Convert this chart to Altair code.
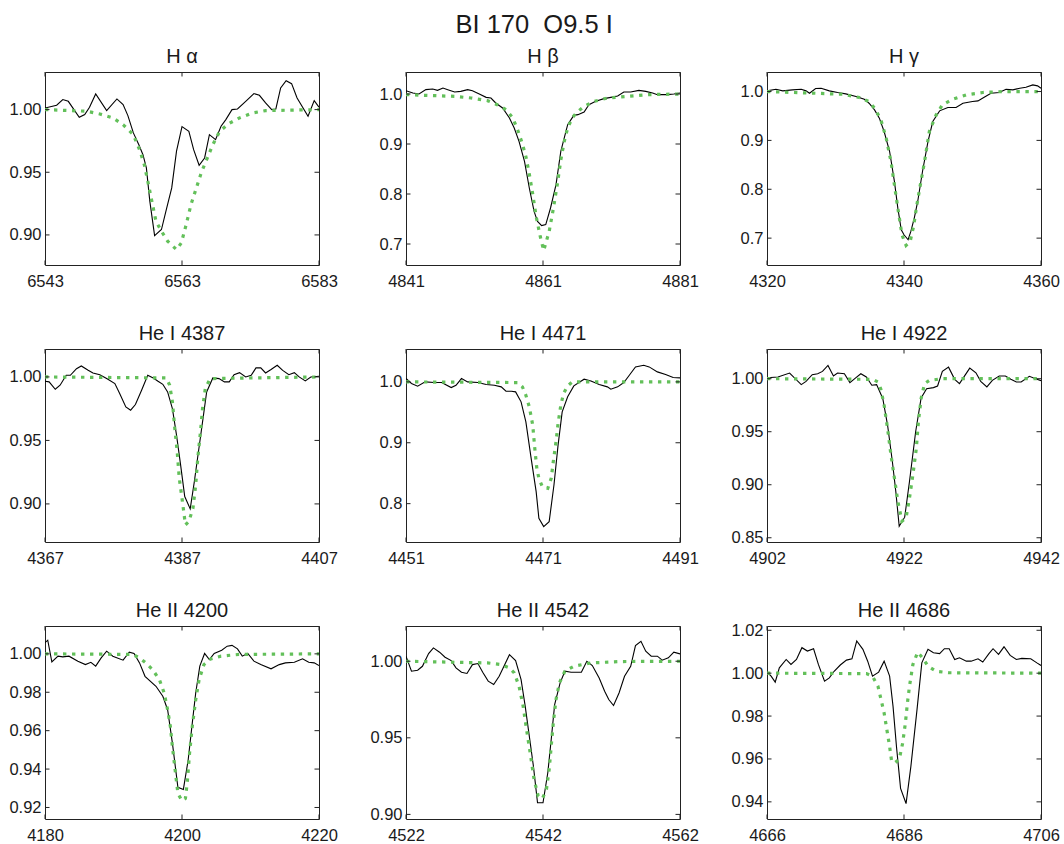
import altair as alt
import pandas as pd

FONT = "Liberation Sans"
TEXT = "#1a1a1a"
GREEN = "#63c05a"

# ---------------- data ----------------
ha_obs_x = [6543.0, 6544.7, 6545.6, 6546.4, 6548.0, 6548.8, 6549.5, 6550.4, 6552.0, 6553.5, 6554.4, 6555.1, 6555.9, 6556.7, 6557.3, 6557.8, 6558.3, 6559.0, 6560.0, 6560.7, 6561.5, 6562.2, 6563.0, 6564.0, 6564.7, 6565.5, 6566.3, 6567.0, 6567.9, 6568.7, 6569.4, 6570.3, 6571.1, 6572.3, 6573.5, 6574.3, 6575.2, 6576.1, 6576.7, 6577.4, 6578.2, 6579.0, 6579.8, 6581.4, 6582.3, 6583.0]
ha_obs_y = [1.0013, 1.0035, 1.008, 1.0066, 0.9939, 0.996, 1.0019, 1.0125, 0.9992, 1.0085, 1.004, 0.9952, 0.9814, 0.972, 0.964, 0.9535, 0.927, 0.8995, 0.9043, 0.920, 0.9375, 0.9668, 0.9864, 0.9827, 0.968, 0.9556, 0.9614, 0.980, 0.976, 0.9867, 0.992, 1.000, 1.0005, 1.0066, 1.0128, 1.0114, 1.0053, 1.000, 1.0005, 1.0173, 1.0231, 1.0207, 1.0093, 0.9947, 1.0072, 1.0019]
ha_mod_x = [6543.0, 6549.1, 6551.0, 6552.9, 6554.4, 6555.9, 6556.8, 6557.5, 6558.0, 6558.5, 6559.2, 6560.0, 6560.9, 6562.2, 6562.9, 6563.6, 6564.3, 6565.1, 6565.8, 6566.5, 6567.5, 6568.5, 6569.9, 6571.4, 6573.3, 6575.2, 6583.0]
ha_mod_y = [1.000, 0.9987, 0.9965, 0.9934, 0.988, 0.980, 0.968, 0.956, 0.943, 0.9295, 0.911, 0.903, 0.895, 0.8883, 0.8936, 0.908, 0.924, 0.9375, 0.9495, 0.9588, 0.972, 0.9827, 0.989, 0.9934, 0.9973, 0.9992, 1.000]

hb_obs_x = [4841.0, 4842.0, 4842.9, 4843.9, 4844.9, 4845.6, 4846.4, 4847.1, 4848.1, 4849.0, 4850.0, 4850.7, 4851.7, 4852.7, 4853.4, 4854.1, 4855.1, 4856.1, 4856.8, 4857.5, 4858.3, 4859.0, 4859.7, 4860.2, 4860.8, 4861.4, 4862.1, 4862.9, 4863.6, 4864.6, 4865.5, 4866.1, 4867.0, 4867.7, 4868.7, 4869.9, 4870.9, 4871.9, 4872.8, 4873.8, 4875.0, 4876.0, 4877.0, 4877.7, 4879.2, 4880.1, 4881.0]
hb_obs_y = [1.0067, 1.002, 1.000, 1.0087, 1.010, 1.0073, 1.012, 1.0087, 1.004, 1.0053, 1.0087, 1.0067, 1.000, 0.9933, 0.992, 0.982, 0.972, 0.952, 0.932, 0.9053, 0.8653, 0.812, 0.7653, 0.7453, 0.7367, 0.7387, 0.772, 0.8187, 0.8853, 0.9387, 0.9573, 0.9587, 0.964, 0.9787, 0.9853, 0.9907, 0.9933, 0.996, 1.004, 1.004, 1.0073, 1.0053, 1.002, 0.9987, 0.9987, 1.000, 1.002]
hb_mod_x = [4841.0, 4848.1, 4850.5, 4852.9, 4854.3, 4855.6, 4856.6, 4857.3, 4858.0, 4858.5, 4859.0, 4859.5, 4860.0, 4860.6, 4861.1, 4861.9, 4862.5, 4863.1, 4863.6, 4864.1, 4864.6, 4865.3, 4866.0, 4867.0, 4868.5, 4870.4, 4873.3, 4876.2, 4881.0]
hb_mod_y = [0.9987, 0.9953, 0.992, 0.9867, 0.9787, 0.9687, 0.952, 0.928, 0.900, 0.875, 0.840, 0.800, 0.755, 0.715, 0.687, 0.725, 0.770, 0.820, 0.868, 0.905, 0.932, 0.953, 0.964, 0.9753, 0.9853, 0.992, 0.9953, 0.9987, 1.000]

hg_obs_x = [4320.0, 4321.3, 4322.3, 4323.7, 4325.0, 4325.7, 4326.2, 4327.1, 4327.9, 4329.1, 4330.3, 4331.5, 4333.0, 4334.2, 4334.9, 4335.7, 4336.4, 4337.1, 4337.9, 4338.6, 4339.1, 4339.6, 4340.0, 4340.6, 4341.0, 4341.5, 4342.0, 4342.7, 4343.5, 4344.2, 4345.2, 4346.4, 4347.6, 4348.6, 4350.0, 4350.8, 4351.7, 4352.7, 4353.9, 4354.9, 4355.9, 4356.9, 4357.8, 4358.8, 4359.5, 4360.0]
hg_obs_y = [1.0014, 1.0048, 1.0014, 1.0034, 1.0048, 1.0014, 0.9966, 1.0061, 1.0068, 1.0014, 0.998, 0.9952, 0.9898, 0.9843, 0.9761, 0.9625, 0.9455, 0.9182, 0.8773, 0.816, 0.7614, 0.7171, 0.7069, 0.6967, 0.7137, 0.741, 0.775, 0.8364, 0.8977, 0.9386, 0.9605, 0.9673, 0.9673, 0.9761, 0.9795, 0.9809, 0.9884, 0.9966, 0.998, 1.0048, 1.0034, 1.0068, 1.0089, 1.0136, 1.0116, 1.0068]
hg_mod_x = [4320.0, 4331.0, 4333.5, 4334.9, 4335.9, 4336.7, 4337.4, 4338.1, 4338.6, 4339.1, 4339.7, 4340.3, 4340.9, 4341.4, 4341.8, 4342.3, 4343.0, 4343.7, 4344.7, 4345.6, 4347.1, 4349.1, 4351.5, 4354.4, 4360.0]
hg_mod_y = [1.000, 0.9945, 0.9877, 0.9795, 0.9625, 0.9386, 0.9045, 0.8568, 0.8091, 0.7614, 0.7069, 0.685, 0.6933, 0.724, 0.7614, 0.8023, 0.8568, 0.9182, 0.9523, 0.9727, 0.9843, 0.9932, 0.998, 1.000, 1.000]

he4387_obs_x = [4367.0, 4367.6, 4368.5, 4369.2, 4370.1, 4370.7, 4371.6, 4372.3, 4373.3, 4374.0, 4375.0, 4376.0, 4377.2, 4377.9, 4378.8, 4379.5, 4380.2, 4381.1, 4382.0, 4382.8, 4383.5, 4384.2, 4384.9, 4385.6, 4386.2, 4386.8, 4387.4, 4388.2, 4388.8, 4389.5, 4390.1, 4390.6, 4391.5, 4392.4, 4393.2, 4393.9, 4394.6, 4395.4, 4396.3, 4397.1, 4397.8, 4398.5, 4399.2, 4400.0, 4400.9, 4401.7, 4402.6, 4403.4, 4404.1, 4405.0, 4405.8, 4407.0]
he4387_obs_y = [0.9966, 0.9961, 0.9903, 0.9935, 1.0013, 1.0013, 1.0065, 1.0086, 1.0052, 1.0031, 1.0018, 0.9987, 0.9948, 0.9869, 0.9764, 0.9738, 0.9783, 0.9895, 1.0013, 0.9992, 0.9966, 0.9942, 0.9882, 0.9751, 0.9542, 0.9306, 0.9058, 0.8961, 0.9175, 0.945, 0.9686, 0.9882, 0.9992, 0.9987, 0.9961, 0.9961, 1.0018, 1.0034, 1.000, 1.0013, 1.0071, 1.0071, 1.0031, 1.0058, 1.0092, 1.0052, 1.0018, 1.0034, 1.000, 0.9969, 1.000, 1.0005]
he4387_mod_x = [4367.0, 4384.7, 4385.2, 4385.6, 4385.9, 4386.3, 4386.6, 4387.0, 4387.5, 4388.0, 4388.6, 4389.0, 4389.3, 4389.7, 4390.0, 4390.4, 4391.1, 4407.0]
he4387_mod_y = [1.000, 0.9992, 0.9935, 0.9804, 0.962, 0.9411, 0.9202, 0.9045, 0.8835, 0.8861, 0.8966, 0.9149, 0.9359, 0.9568, 0.9751, 0.9908, 0.9987, 1.000]

he4471_obs_x = [4451.0, 4451.8, 4452.7, 4453.8, 4455.1, 4456.2, 4457.6, 4458.3, 4459.1, 4460.0, 4461.5, 4462.7, 4463.9, 4464.9, 4465.6, 4466.4, 4467.0, 4467.8, 4468.5, 4469.2, 4470.0, 4470.4, 4471.1, 4471.9, 4472.6, 4473.2, 4473.8, 4474.6, 4475.5, 4477.0, 4478.0, 4479.2, 4480.4, 4480.9, 4481.9, 4482.8, 4483.6, 4484.5, 4485.7, 4486.5, 4487.7, 4488.9, 4490.0, 4491.0]
he4471_obs_y = [1.0055, 0.9973, 0.9929, 1.000, 0.9989, 0.9989, 0.9907, 0.9945, 1.0055, 1.000, 0.9989, 0.9956, 0.9945, 0.9918, 0.9847, 0.9847, 0.9836, 0.9672, 0.9344, 0.8798, 0.8197, 0.776, 0.7623, 0.7705, 0.8306, 0.8962, 0.9508, 0.9754, 0.9934, 1.0044, 1.0016, 0.9956, 0.9918, 0.988, 0.9918, 0.9989, 1.0109, 1.0246, 1.0273, 1.0246, 1.0164, 1.012, 1.0071, 1.0066]
he4471_mod_x = [4451.0, 4467.3, 4468.0, 4468.5, 4469.0, 4469.5, 4469.8, 4470.1, 4470.4, 4470.9, 4471.7, 4472.2, 4472.5, 4472.9, 4473.2, 4473.6, 4474.0, 4474.6, 4475.3, 4491.0]
he4471_mod_y = [1.000, 0.9989, 0.9918, 0.9781, 0.959, 0.929, 0.8907, 0.8579, 0.8415, 0.8279, 0.8251, 0.8415, 0.8689, 0.9016, 0.9317, 0.9617, 0.9809, 0.9934, 1.000, 1.000]

he4922_obs_x = [4902.0, 4903.6, 4905.3, 4907.0, 4907.7, 4908.6, 4909.4, 4910.1, 4910.9, 4911.7, 4912.3, 4913.3, 4914.1, 4914.9, 4915.7, 4916.5, 4917.3, 4918.0, 4918.9, 4919.6, 4920.3, 4920.8, 4921.3, 4922.1, 4922.8, 4923.7, 4924.5, 4925.3, 4926.3, 4926.9, 4927.6, 4928.5, 4929.4, 4930.1, 4930.8, 4931.6, 4932.5, 4933.2, 4934.1, 4934.9, 4935.9, 4936.8, 4937.6, 4938.4, 4939.1, 4940.3, 4941.2, 4942.0]
he4922_obs_y = [1.0009, 1.0016, 1.0053, 0.9944, 0.9975, 1.0038, 1.0047, 1.0069, 1.0125, 1.0025, 1.0053, 1.0047, 0.9963, 1.0006, 1.0047, 1.0016, 0.9938, 0.9944, 0.9813, 0.9563, 0.9219, 0.8938, 0.8609, 0.8694, 0.9031, 0.95, 0.9819, 0.9906, 0.9916, 0.9931, 1.0069, 1.0109, 0.9994, 0.9953, 1.0022, 1.01, 1.0056, 0.9975, 0.9922, 0.9984, 1.0025, 1.0025, 0.9994, 0.9969, 0.9969, 1.0022, 1.000, 0.9981]
he4922_mod_x = [4902.0, 4917.4, 4918.2, 4918.6, 4919.1, 4919.6, 4920.1, 4920.6, 4921.1, 4921.7, 4922.3, 4922.8, 4923.3, 4923.8, 4924.1, 4924.5, 4925.0, 4925.7, 4927.6, 4942.0]
he4922_mod_y = [1.000, 0.9994, 0.9969, 0.9906, 0.975, 0.9531, 0.9281, 0.9063, 0.8844, 0.8656, 0.8688, 0.8875, 0.9094, 0.9344, 0.9594, 0.9813, 0.9953, 0.9984, 1.000, 1.000]

he4200_obs_x = [4180.0, 4180.4, 4181.0, 4181.9, 4182.6, 4183.5, 4184.8, 4185.9, 4186.7, 4187.4, 4188.2, 4189.0, 4189.9, 4191.4, 4192.3, 4193.0, 4193.8, 4194.6, 4196.2, 4197.2, 4197.9, 4198.6, 4199.4, 4200.2, 4200.9, 4201.5, 4202.0, 4202.6, 4203.3, 4204.0, 4204.7, 4205.8, 4206.6, 4207.3, 4208.1, 4208.8, 4209.6, 4210.5, 4211.5, 4213.0, 4214.2, 4215.1, 4216.4, 4217.6, 4218.5, 4219.3, 4220.0]
he4200_obs_y = [1.0058, 1.0071, 0.9958, 0.9988, 0.9984, 0.9988, 0.9962, 0.9944, 0.9956, 0.9936, 0.9979, 1.0014, 0.9988, 0.9967, 1.0009, 1.0002, 0.9953, 0.9883, 0.9831, 0.9779, 0.9709, 0.9535, 0.9305, 0.9294, 0.9447, 0.9639, 0.9796, 0.9936, 1.0002, 0.997, 1.0002, 1.0019, 1.004, 1.0044, 1.0026, 0.9988, 1.0002, 0.9962, 0.9944, 0.9922, 0.9944, 0.9953, 0.9956, 0.9974, 0.9956, 0.9953, 0.9939]
he4200_mod_x = [4180.0, 4192.8, 4193.8, 4194.7, 4195.7, 4196.7, 4197.4, 4197.9, 4198.3, 4198.6, 4199.0, 4199.4, 4200.0, 4200.5, 4200.8, 4201.1, 4201.5, 4202.0, 4202.5, 4203.2, 4204.2, 4205.7, 4208.3, 4220.0]
he4200_mod_y = [1.000, 0.9997, 0.9979, 0.9953, 0.9918, 0.9866, 0.9796, 0.9709, 0.9622, 0.9517, 0.9395, 0.9273, 0.9235, 0.9247, 0.9343, 0.9482, 0.9622, 0.9761, 0.9866, 0.9944, 0.9974, 0.9988, 0.9997, 1.000]

he4542_obs_x = [4522.0, 4522.8, 4523.7, 4524.4, 4525.3, 4526.0, 4526.9, 4527.7, 4528.6, 4529.3, 4530.1, 4530.9, 4531.7, 4532.5, 4533.2, 4534.0, 4534.8, 4535.6, 4536.3, 4537.1, 4538.0, 4538.8, 4539.4, 4540.0, 4540.6, 4541.2, 4542.0, 4542.7, 4543.2, 4543.7, 4544.5, 4545.2, 4546.1, 4547.6, 4548.4, 4549.2, 4550.2, 4551.0, 4551.6, 4552.3, 4553.1, 4553.9, 4554.8, 4555.5, 4556.3, 4557.0, 4557.8, 4558.7, 4559.4, 4560.3, 4561.1, 4562.0]
he4542_obs_y = [1.0033, 0.9935, 0.9941, 0.9967, 1.005, 1.0087, 1.0059, 1.0026, 1.0004, 0.9957, 0.9928, 0.992, 0.9978, 0.9985, 0.9928, 0.987, 0.9848, 0.9902, 0.9967, 1.0043, 1.0004, 0.988, 0.9707, 0.9511, 0.9315, 0.9076, 0.9076, 0.9272, 0.9489, 0.9717, 0.9859, 0.9935, 0.9928, 0.9928, 1.000, 0.9972, 0.9891, 0.9804, 0.975, 0.9711, 0.9793, 0.9902, 0.9967, 1.0102, 1.013, 1.0065, 1.0033, 1.0033, 1.0007, 1.0022, 1.0059, 1.0048]
he4542_mod_x = [4522.0, 4533.9, 4535.9, 4537.1, 4537.8, 4538.5, 4539.1, 4539.6, 4540.2, 4540.7, 4541.3, 4541.9, 4542.5, 4542.9, 4543.2, 4543.5, 4543.9, 4544.4, 4545.2, 4546.5, 4549.0, 4553.4, 4562.0]
he4542_mod_y = [1.000, 0.9989, 0.9978, 0.9957, 0.9924, 0.9837, 0.9707, 0.9554, 0.938, 0.9228, 0.912, 0.9102, 0.9163, 0.9293, 0.9446, 0.9598, 0.975, 0.9859, 0.9935, 0.9967, 0.9989, 0.9998, 1.000]

he4686_obs_x = [4666.0, 4666.6, 4667.2, 4667.8, 4668.8, 4669.5, 4670.3, 4671.1, 4671.9, 4672.8, 4673.5, 4674.4, 4675.1, 4675.8, 4676.7, 4677.6, 4678.4, 4679.1, 4680.0, 4680.7, 4681.4, 4682.3, 4683.1, 4683.9, 4684.4, 4684.9, 4685.5, 4686.3, 4687.0, 4687.9, 4688.6, 4689.5, 4690.3, 4691.2, 4691.9, 4692.6, 4693.4, 4694.1, 4695.1, 4695.8, 4696.8, 4697.5, 4698.4, 4699.0, 4699.8, 4700.6, 4701.5, 4702.4, 4703.2, 4704.5, 4705.4, 4706.0]
he4686_obs_y = [1.0005, 0.9986, 0.9958, 1.0025, 1.0064, 1.0041, 1.0064, 1.0119, 1.0103, 1.0114, 1.0041, 0.9963, 0.9978, 1.0009, 1.0038, 1.0061, 1.0067, 1.015, 1.0111, 1.0056, 0.9986, 1.0005, 1.0056, 0.9986, 0.9845, 0.9658, 0.9463, 0.9392, 0.9564, 0.983, 1.0048, 1.0111, 1.0095, 1.0091, 1.0114, 1.0114, 1.0064, 1.0072, 1.0056, 1.0056, 1.0067, 1.0052, 1.0091, 1.0114, 1.0088, 1.0123, 1.0083, 1.0064, 1.0069, 1.0067, 1.0048, 1.0036]
he4686_mod_x = [4666.0, 4680.5, 4681.4, 4682.2, 4682.6, 4683.1, 4683.5, 4683.9, 4684.2, 4684.7, 4685.3, 4685.8, 4686.2, 4686.5, 4686.8, 4687.3, 4688.0, 4688.7, 4689.5, 4690.7, 4692.6, 4706.0]
he4686_mod_y = [1.000, 0.9998, 0.9986, 0.9939, 0.9884, 0.9814, 0.9736, 0.9658, 0.9588, 0.9583, 0.9598, 0.9673, 0.9767, 0.9861, 0.9939, 1.0041, 1.0098, 1.0072, 1.0033, 1.0009, 1.0002, 1.000]

panel_titles = ["H α", "H β", "H γ", "He I 4387", "He I 4471", "He I 4922", "He II 4200", "He II 4542", "He II 4686"]
x_starts = [6543, 4841, 4320, 4367, 4451, 4902, 4180, 4522, 4666]
y_domains = [[0.876, 1.030], [0.658, 1.044], [0.645, 1.040],
             [0.870, 1.022], [0.737, 1.054], [0.846, 1.028],
             [0.914, 1.0145], [0.897, 1.023], [0.932, 1.022]]
y_ticks = [[0.90, 0.95, 1.00], [0.7, 0.8, 0.9, 1.0], [0.7, 0.8, 0.9, 1.0],
           [0.90, 0.95, 1.00], [0.8, 0.9, 1.0], [0.85, 0.90, 0.95, 1.00],
           [0.92, 0.94, 0.96, 0.98, 1.00], [0.90, 0.95, 1.00], [0.94, 0.96, 0.98, 1.00, 1.02]]
y_formats = [".2f", ".1f", ".1f", ".2f", ".1f", ".2f", ".2f", ".2f", ".2f"]
observed = [(ha_obs_x, ha_obs_y), (hb_obs_x, hb_obs_y), (hg_obs_x, hg_obs_y),
            (he4387_obs_x, he4387_obs_y), (he4471_obs_x, he4471_obs_y), (he4922_obs_x, he4922_obs_y),
            (he4200_obs_x, he4200_obs_y), (he4542_obs_x, he4542_obs_y), (he4686_obs_x, he4686_obs_y)]
models = [(ha_mod_x, ha_mod_y), (hb_mod_x, hb_mod_y), (hg_mod_x, hg_mod_y),
          (he4387_mod_x, he4387_mod_y), (he4471_mod_x, he4471_mod_y), (he4922_mod_x, he4922_mod_y),
          (he4200_mod_x, he4200_mod_y), (he4542_mod_x, he4542_mod_y), (he4686_mod_x, he4686_mod_y)]

# ---------------- layout ----------------
W, H = 274, 193
TL = 4.5
# title offsets (the last panel has a tick label poking above its frame)
title_offsets = [-11, -11, -11, -11, -11, -11, -11, -11, -15]


def panel(i):
    x0 = x_starts[i]
    xvals = [x0, x0 + 20, x0 + 40]
    xs = alt.Scale(domain=[x0, x0 + 40], nice=False, zero=False)
    ys = alt.Scale(domain=y_domains[i], nice=False, zero=False)
    xaxis = alt.Axis(values=xvals, format="d", ticks=False, domain=False, grid=False,
                     labelFlush=False, labelPadding=8, title=None, labelOverlap=False)
    yaxis = alt.Axis(values=y_ticks[i], format=y_formats[i], ticks=False, domain=False,
                     grid=False, labelPadding=4, title=None, labelOverlap=False)
    ox, oy = observed[i]
    mx, my = models[i]
    obs = pd.DataFrame({"w": ox, "f": oy})
    mod = pd.DataFrame({"w": mx, "f": my})
    xt = pd.DataFrame({"w": xvals})
    yt = pd.DataFrame({"f": y_ticks[i]})

    X = alt.X("w:Q", scale=xs, axis=xaxis)
    Y = alt.Y("f:Q", scale=ys, axis=yaxis)

    l_obs = alt.Chart(obs).mark_line(color="black", strokeWidth=1.1, clip=True).encode(x=X, y=Y)
    l_mod = alt.Chart(mod).mark_line(color=GREEN, strokeWidth=3.2, strokeDash=[3.4, 5.6],
                                     strokeCap="butt", clip=True).encode(x=X, y=Y)
    t_top = alt.Chart(xt).mark_rule(color="#222222", strokeWidth=1).encode(
        x=X, y=alt.value(0), y2=alt.value(TL))
    t_bot = alt.Chart(xt).mark_rule(color="#222222", strokeWidth=1).encode(
        x=X, y=alt.value(H - TL), y2=alt.value(H))
    t_left = alt.Chart(yt).mark_rule(color="#222222", strokeWidth=1).encode(
        y=Y, x=alt.value(0), x2=alt.value(TL))
    t_right = alt.Chart(yt).mark_rule(color="#222222", strokeWidth=1).encode(
        y=Y, x=alt.value(W - TL), x2=alt.value(W))
    return alt.layer(l_obs, l_mod, t_top, t_bot, t_left, t_right).properties(
        width=W, height=H,
        title=alt.TitleParams(panel_titles[i], fontSize=20, offset=title_offsets[i],
                              baseline="alphabetic"))


chart = alt.concat(*[panel(i) for i in range(9)], columns=3,
                   spacing={"row": 84, "column": 87}, bounds="flush").properties(
    title=alt.TitleParams("BI 170\u00a0 O9.5 I", fontSize=25.5, anchor="middle", offset=-12,
                          baseline="alphabetic"),
    padding={"left": 8, "top": 12, "right": 4, "bottom": 4},
).configure_view(stroke="#222222", strokeWidth=1).configure_axis(
    labelFont=FONT, labelFontSize=16.5, labelColor=TEXT
).configure_title(
    font=FONT, fontWeight="normal", color=TEXT
)

chart.save("out.html", embed_options={"renderer": "svg", "actions": False})
